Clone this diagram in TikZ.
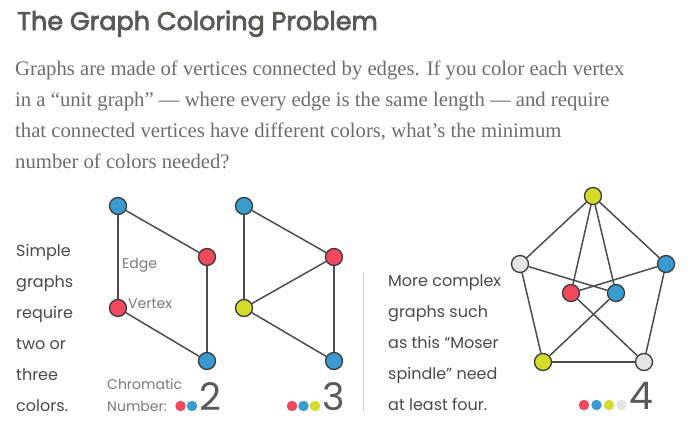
\documentclass[tikz,border=0pt]{standalone}
\usepackage{fontspec}
\setmainfont{Liberation Serif}
\newfontfamily\geo{Poppins}
\newfontfamily\geotitle[FakeBold=3]{Poppins}
\definecolor{titlecol}{HTML}{5A5A55}
\definecolor{paracol}{HTML}{6E6E68}
\definecolor{sanscol}{HTML}{4A4A4A}
\definecolor{lblcol}{HTML}{7A7A7A}
\definecolor{numcol}{HTML}{5A5A5A}
\definecolor{vblue}{HTML}{3A9BD1}
\definecolor{vred}{HTML}{F2485E}
\definecolor{vyellow}{HTML}{D3DC2B}
\definecolor{vgray}{HTML}{E5E5E5}
\definecolor{outl}{HTML}{3B3B3B}
\definecolor{edgecol}{HTML}{4D4D4D}
\definecolor{sepcol}{HTML}{D0D0D0}
\begin{document}
\begin{tikzpicture}[x=1pt,y=-1pt,
  vert/.style={circle, draw=outl, line width=1.3pt, minimum size=17pt, inner sep=0pt},
  cdot/.style={circle, minimum size=10.5pt, inner sep=0pt},
  link/.style={draw=edgecol, line width=1.5pt},
  para/.style={anchor=base west, inner sep=0pt, text=paracol, font=\fontsize{20.7}{20.7}\selectfont},
  side/.style={anchor=base west, inner sep=0pt, text=sanscol, font=\geo\fontsize{16}{16}\selectfont},
  small/.style={anchor=base west, inner sep=0pt, text=lblcol, font=\geo\fontsize{14}{14}\selectfont},
  bignum/.style={anchor=base west, inner sep=0pt, text=numcol, font=\geo\fontsize{38}{38}\selectfont}]
\useasboundingbox (0,0) rectangle (697,434);
\fill[white] (0,0) rectangle (697,434);
% title
\node[anchor=base west, inner sep=0pt, text=titlecol, font=\geotitle\fontsize{25.5}{25.5}\selectfont] (title) at (17,30) {The Graph Coloring Problem};
% paragraph
\node[para] (p1) at (15,75) {Graphs are made of vertices connected by edges. If you color each vertex};
\node[para] (p2) at (15,106) {in a “unit graph” — where every edge is the same length — and require};
\node[para] (p3) at (15,137) {that connected vertices have different colors, what’s the minimum};
\node[para] (p4) at (15,168) {number of colors needed?};
% left text
\node[side] (l1) at (16,256) {Simple};
\node[side] (l2) at (16,287) {graphs};
\node[side] (l3) at (16,318) {require};
\node[side] (l4) at (16,349) {two or};
\node[side] (l5) at (16,380) {three};
\node[side] (l6) at (16,411) {colors.};
% graph 1
\node[vert, fill=vblue] (a1) at (118,206) {};
\node[vert, fill=vred] (a2) at (207,257) {};
\node[vert, fill=vred] (a3) at (118,308) {};
\node[vert, fill=vblue] (a4) at (207,361) {};
\draw[link] (a1) -- (a3);
\draw[link] (a1) -- (a2);
\draw[link] (a2) -- (a4);
\draw[link] (a3) -- (a4);
\node[small] (edgelbl) at (122,268) {Edge};
\node[small] (vertlbl) at (128,308) {Vertex};
\node[small] (chrom1) at (107,389) {Chromatic};
\node[small] (chrom2) at (107,411) {Number:};
\node[cdot, fill=vred] (d1) at (180.5,406) {};
\node[cdot, fill=vblue] (d2) at (192,406) {};
\node[bignum] (n2) at (199,410) {2};
% graph 2
\node[vert, fill=vblue] (b1) at (244,206) {};
\node[vert, fill=vred] (b2) at (334,257) {};
\node[vert, fill=vyellow] (b3) at (244,308) {};
\node[vert, fill=vblue] (b4) at (334,361) {};
\draw[link] (b1) -- (b3);
\draw[link] (b1) -- (b2);
\draw[link] (b2) -- (b4);
\draw[link] (b3) -- (b4);
\draw[link] (b2) -- (b3);
\node[cdot, fill=vred] (e1) at (292,406) {};
\node[cdot, fill=vblue] (e2) at (303.5,406) {};
\node[cdot, fill=vyellow] (e3) at (315,406) {};
\node[bignum] (n3) at (322,410) {3};
% separator
\coordinate (s1) at (363,272);
\coordinate (s2) at (363,411);
\draw[sepcol, line width=1pt] (s1) -- (s2);
% right text
\node[side] (r1) at (388,286) {More complex};
\node[side] (r2) at (388,317) {graphs such};
\node[side] (r3) at (388,348) {as this “Moser};
\node[side] (r4) at (388,379) {spindle” need};
\node[side] (r5) at (388,410) {at least four.};
% Moser spindle
\node[vert, fill=vyellow] (m1) at (593,196) {};
\node[vert, fill=vgray] (m2) at (520,264) {};
\node[vert, fill=vblue] (m3) at (666,264) {};
\node[vert, fill=vred] (m4) at (571,293) {};
\node[vert, fill=vblue] (m5) at (616,293) {};
\node[vert, fill=vyellow] (m6) at (543,362) {};
\node[vert, fill=vgray] (m7) at (644,362) {};
\draw[link] (m1) -- (m2);
\draw[link] (m1) -- (m3);
\draw[link] (m1) -- (m4);
\draw[link] (m1) -- (m5);
\draw[link] (m2) -- (m6);
\draw[link] (m3) -- (m7);
\draw[link] (m6) -- (m7);
\draw[link] (m4) -- (m7);
\draw[link] (m5) -- (m6);
\draw[link] (m2) -- (m5);
\draw[link] (m3) -- (m4);
\node[cdot, fill=vred] (f1) at (584,405) {};
\node[cdot, fill=vblue] (f2) at (596.5,405) {};
\node[cdot, fill=vyellow] (f3) at (609,405) {};
\node[cdot, fill=vgray] (f4) at (621.5,405) {};
\node[bignum] (n4) at (629,409) {4};
\end{tikzpicture}
\end{document}
